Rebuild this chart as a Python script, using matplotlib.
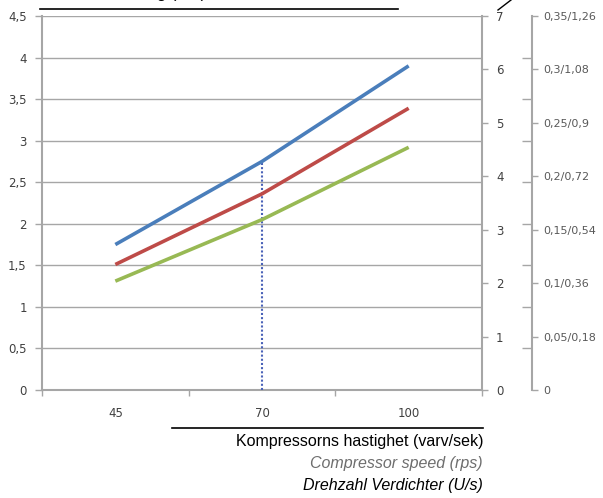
import matplotlib.pyplot as plt
from matplotlib.lines import Line2D

# data
speeds = ["45", "70", "100"]
blue_vals = [1.75, 2.75, 3.90]
red_vals = [1.51, 2.36, 3.39]
green_vals = [1.31, 2.05, 2.92]
left_ticks = [0, 0.5, 1, 1.5, 2, 2.5, 3, 3.5, 4, 4.5]
left_labels = ["0", "0,5", "1", "1,5", "2", "2,5", "3", "3,5", "4", "4,5"]
mid_labels = ["0", "1", "2", "3", "4", "5", "6", "7"]
far_labels = ["0", "0,05/0,18", "0,1/0,36", "0,15/0,54", "0,2/0,72",
              "0,25/0,9", "0,3/1,08", "0,35/1,26"]

grey = "#a6a6a6"
txt = "#404040"

fig = plt.figure(figsize=(6.03, 4.98), dpi=100)
ax = fig.add_axes([42 / 603, 108 / 498, 440 / 603, 374 / 498])

x = list(range(len(speeds)))
ax.plot(x, blue_vals, color="#4a7ebb", lw=2.6, solid_capstyle="butt", zorder=4)
ax.plot(x, red_vals, color="#be4b48", lw=2.6, solid_capstyle="butt", zorder=4)
ax.plot(x, green_vals, color="#98b954", lw=2.6, solid_capstyle="butt", zorder=4)
ax.plot([1, 1], [0, blue_vals[1]], color="#4a62b8", lw=1.5, ls=(0, (1, 1)), zorder=3)

ax.set_xlim(-0.5, 2.5)
ax.set_ylim(0, 4.5)
ax.set_yticks(left_ticks)
ax.set_yticklabels(left_labels, color=txt, fontsize=8.5)
ax.yaxis.grid(True, color=grey, lw=1)
ax.set_axisbelow(True)
ax.tick_params(axis="y", colors=grey, length=5, width=1, labelcolor=txt, pad=6)

ax.set_xticks([-0.5, 0.5, 1.5, 2.5])
ax.set_xticklabels([])
ax.set_xticks(x, minor=True)
ax.set_xticklabels(speeds, minor=True, color=txt, fontsize=8.5)
ax.tick_params(axis="x", which="major", colors=grey, length=4, width=1)
ax.tick_params(axis="x", which="minor", length=0, pad=12, labelcolor=txt)

for s in ["top", "right"]:
    ax.spines[s].set_visible(False)
ax.spines["left"].set_color(grey)
ax.spines["left"].set_linewidth(1.5)
ax.spines["bottom"].set_color(grey)
ax.spines["bottom"].set_linewidth(1.5)

# middle axis 0..7
ax2 = ax.twinx()
ax2.set_ylim(0, 7)
ax2.set_yticks(range(8))
ax2.set_yticklabels(mid_labels, fontsize=8.5, color=txt)
ax2.tick_params(axis="y", colors=grey, length=4, width=1, labelcolor=txt, pad=6)
for s in ["top", "left", "bottom"]:
    ax2.spines[s].set_visible(False)
ax2.spines["right"].set_color(grey)
ax2.spines["right"].set_linewidth(1.5)

# outer axis
ax3 = ax.twinx()
ax3.spines["right"].set_position(("axes", 1 + 50 / 440))
ax3.set_ylim(0, 7)
ax3.set_yticks(range(8))
ax3.set_yticklabels(far_labels, fontsize=8, color="#595959")
ax3.set_yticks([v * 7 / 4.5 for v in left_ticks], minor=True)
ax3.tick_params(axis="y", which="major", colors=grey, length=4, width=1,
                labelcolor="#595959", pad=4)
ax3.tick_params(axis="y", which="minor", colors=grey, length=7, width=1, direction="in")
for s in ["top", "left", "bottom"]:
    ax3.spines[s].set_visible(False)
ax3.spines["right"].set_color(grey)
ax3.spines["right"].set_linewidth(1.5)

# top title, cut off at the upper edge as in the original
fig.text(40 / 603, 1 + 2 / 498, "Effektförbrukning (kW)", fontsize=12,
         family="Liberation Sans", va="baseline", ha="left")
fig.add_artist(Line2D([40 / 603, 398 / 603], [1 - 9 / 498, 1 - 9 / 498],
                      color="black", lw=1.2))
fig.add_artist(Line2D([498 / 603, 511 / 603], [1 - 10 / 498, 1], color="black", lw=1))

# x axis label block
fig.add_artist(Line2D([172 / 603, 483 / 603], [1 - 428 / 498, 1 - 428 / 498],
                      color="black", lw=1.2))
fig.text(483 / 603, 1 - 441 / 498, "Kompressorns hastighet (varv/sek)", fontsize=11.5,
         family="Liberation Sans", ha="right", va="center", color="black")
fig.text(483 / 603, 1 - 463 / 498, "Compressor speed (rps)", fontsize=11.5,
         family="Liberation Sans", style="italic", ha="right", va="center", color="#6e6e6e")
fig.text(483 / 603, 1 - 485 / 498, "Drehzahl Verdichter (U/s)", fontsize=11.5,
         family="Liberation Sans", style="italic", ha="right", va="center", color="black")

fig.savefig("out.png", dpi=100)
